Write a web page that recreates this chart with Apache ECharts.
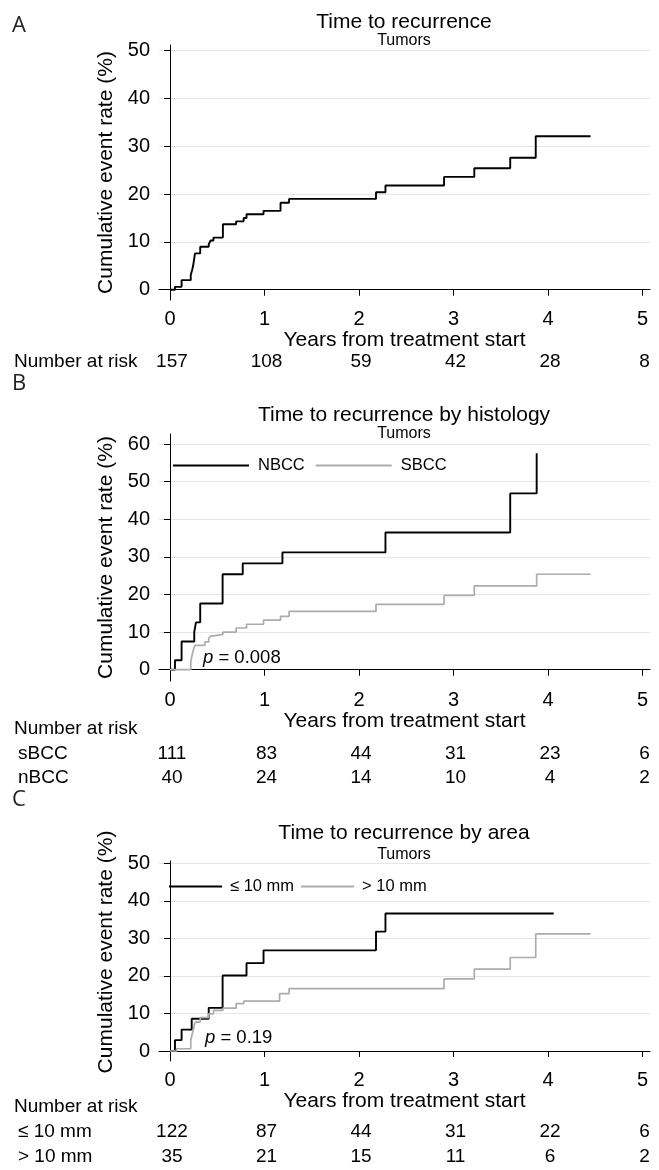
<!DOCTYPE html>
<html>
<head>
<meta charset="utf-8">
<script src="https://cdn.jsdelivr.net/npm/echarts@6.0.0/dist/echarts.min.js"></script>
<style>
  html, body { margin: 0; padding: 0; background: #fff; }
  #main { width: 659px; height: 1170px; }
</style>
</head>
<body>
<div id="main"></div>
<script>
// ---- data ----
var yearTicks = [0, 1, 2, 3, 4, 5];
var tickA = [0, 10, 20, 30, 40, 50];
var tickB = [0, 10, 20, 30, 40, 50, 60];

// panel A: all tumors
var timeAll = [0, 0.053, 0.123, 0.22, 0.235, 0.245, 0.255, 0.265, 0.32, 0.41, 0.43, 0.46, 0.56, 0.70, 0.78, 0.81, 0.99, 1.17, 1.26, 2.18, 2.28, 2.90, 3.22, 3.60, 3.87, 4.45];
var rateAll = [0, 0.6, 2.0, 3.1, 4.2, 5.0, 6.3, 7.6, 9.0, 9.5, 10.3, 10.9, 13.7, 14.3, 15.0, 15.8, 16.5, 18.2, 19.0, 20.4, 21.8, 23.6, 25.4, 27.6, 32.1, 32.1];

// panel B: histology
var timeNbcc = [0, 0.053, 0.123, 0.257, 0.275, 0.32, 0.557, 0.77, 1.19, 2.28, 3.60, 3.88];
var rateNbcc = [0, 2.5, 7.5, 10.0, 12.6, 17.6, 25.4, 28.3, 31.2, 36.5, 46.9, 57.6];
var timeSbcc = [0, 0.22, 0.235, 0.25, 0.265, 0.37, 0.41, 0.43, 0.46, 0.56, 0.70, 0.81, 0.99, 1.17, 1.26, 2.18, 2.90, 3.22, 3.88, 4.45];
var rateSbcc = [0, 2.1, 4.0, 5.5, 6.5, 7.4, 8.3, 9.0, 9.4, 10.0, 11.1, 12.1, 13.2, 14.2, 15.5, 17.4, 19.8, 22.3, 25.4, 25.4];

// panel C: area
var timeSmall = [0, 0.053, 0.123, 0.23, 0.41, 0.557, 0.81, 0.99, 2.18, 2.28, 4.06];
var rateSmall = [0, 2.9, 5.7, 8.6, 11.5, 20.1, 23.4, 26.8, 31.8, 36.6, 36.6];
var timeLarge = [0, 0.07, 0.22, 0.235, 0.25, 0.265, 0.32, 0.41, 0.46, 0.56, 0.70, 0.78, 1.16, 1.26, 2.90, 3.22, 3.60, 3.87, 4.45];
var rateLarge = [0, 0.6, 2.8, 4.5, 6.0, 7.7, 8.9, 9.9, 10.8, 11.4, 12.6, 13.3, 15.3, 16.6, 19.2, 21.8, 24.9, 31.2, 31.2];

// number at risk
var riskAll = [157, 108, 59, 42, 28, 8];
var riskSbcc = [111, 83, 44, 31, 23, 6];
var riskNbcc = [40, 24, 14, 10, 4, 2];
var riskSmall = [122, 87, 44, 31, 22, 6];
var riskLarge = [35, 21, 15, 11, 6, 2];

var FONT = '"Liberation Sans", Arial, sans-serif';

function pairs(t, v) {
  var out = [];
  for (var i = 0; i < t.length; i++) out.push([t[i], v[i]]);
  return out;
}

function makeX(idx) {
  return {
    type: 'value', gridIndex: idx, min: -0.116, max: 5.079,
    name: 'Years from treatment start', nameLocation: 'middle', nameGap: 27,
    nameTextStyle: { fontSize: 21, color: '#000', fontFamily: FONT },
    axisLine: { show: true, lineStyle: { color: '#000', width: 1 } },
    axisTick: { show: true, customValues: yearTicks, length: 6, lineStyle: { color: '#000' } },
    axisLabel: { customValues: yearTicks, fontSize: 20, color: '#000', fontFamily: FONT, margin: 9 },
    splitLine: { show: false }
  };
}

function makeY(idx, min, max, ticks, namePad) {
  return {
    type: 'value', gridIndex: idx, min: min, max: max,
    name: 'Cumulative event rate (%)', nameLocation: 'middle', nameGap: 38,
    nameTextStyle: { fontSize: 21, color: '#000', fontFamily: FONT, padding: namePad || 0 },
    axisLine: { show: true, lineStyle: { color: '#000', width: 1 } },
    axisTick: { show: true, customValues: ticks, length: 6, lineStyle: { color: '#000' } },
    axisLabel: { customValues: ticks, fontSize: 20, color: '#000', fontFamily: FONT, margin: 9 },
    splitLine: { show: true, lineStyle: { color: '#e6e6e6', width: 1 } }
  };
}

function km(name, idx, t, v, color, w) {
  return {
    name: name, type: 'line', step: 'end', xAxisIndex: idx, yAxisIndex: idx,
    showSymbol: false, symbol: 'none', animation: false,
    lineStyle: { color: color, width: w }, itemStyle: { color: color },
    data: pairs(t, v)
  };
}

var chart = echarts.init(document.getElementById('main'));

var option = {
  backgroundColor: '#fff',
  animation: false,
  grid: [
    { left: 159, top: 45, width: 491, height: 255 },
    { left: 159, top: 434, width: 491, height: 247 },
    { left: 159, top: 861, width: 491, height: 200 }
  ],
  xAxis: [makeX(0), makeX(1), makeX(2)],
  yAxis: [
    makeY(0, -2.15, 51.2, tickA),
    makeY(1, -3.0, 62.7, tickB),
    makeY(2, -2.66, 50.6, tickA, [0, 0, 0, 18])
  ],
  legend: [
    {
      data: ['NBCC', 'SBCC'], left: 168, top: 452, icon: 'rect',
      itemWidth: 76, itemHeight: 2, itemGap: 11,
      textStyle: { fontSize: 16.5, color: '#000', fontFamily: FONT, padding: [0, 0, 0, 4] }
    },
    {
      data: ['≤ 10 mm', '> 10 mm'], left: 164, top: 873, icon: 'rect',
      itemWidth: 53, itemHeight: 2, itemGap: 7,
      textStyle: { fontSize: 16.5, color: '#000', fontFamily: FONT, padding: [0, 0, 0, 3] }
    }
  ],
  series: [
    km('Tumors', 0, timeAll, rateAll, '#000', 1.9),
    km('NBCC', 1, timeNbcc, rateNbcc, '#000', 1.9),
    km('SBCC', 1, timeSbcc, rateSbcc, '#acacac', 1.7),
    km('≤ 10 mm', 2, timeSmall, rateSmall, '#000', 1.9),
    km('> 10 mm', 2, timeLarge, rateLarge, '#acacac', 1.7)
  ]
};
chart.setOption(option);

// texts: panel letters, titles, p values, risk tables
function txt(s, x, y, size, align, extra) {
  var st = { text: s, fontSize: size, fontFamily: FONT, fill: '#000', align: align || 'center', verticalAlign: 'middle' };
  if (extra) for (var k in extra) st[k] = extra[k];
  return { type: 'text', x: x, y: y, style: st, silent: true };
}

var g = [];
g.push(txt('A', 12, 26, 22, 'left', { fontFamily: '"Open Sans", sans-serif', fill: '#222' }));
g.push(txt('B', 12, 384, 22, 'left', { fontFamily: '"Open Sans", sans-serif', fill: '#222' }));
g.push(txt('C', 12, 800, 22, 'left', { fontFamily: '"Open Sans", sans-serif', fill: '#222' }));

g.push(txt('Time to recurrence', 404, 22, 21));
g.push(txt('Tumors', 404, 41, 16));
g.push(txt('Time to recurrence by histology', 404, 415, 21));
g.push(txt('Tumors', 404, 434, 16));
g.push(txt('Time to recurrence by area', 404, 833, 21));
g.push(txt('Tumors', 404, 855, 16));

var pRich = { i: { fontStyle: 'italic', fontSize: 18.5, fontFamily: FONT } };
g.push(txt('{i|p} = 0.008', 203, 658, 18.5, 'left', { rich: pRich }));
g.push(txt('{i|p} = 0.19', 205, 1038, 18.5, 'left', { rich: pRich }));

function riskRow(axisIdx, label, labelX, y, values) {
  if (label) g.push(txt(label, labelX, y, 19, 'left'));
  for (var i = 0; i < values.length; i++) {
    var px = chart.convertToPixel({ xAxisIndex: axisIdx }, yearTicks[i]);
    g.push(txt(String(values[i]), px + 2, y, 19));
  }
}
g.push(txt('Number at risk', 14, 362, 19, 'left'));
riskRow(0, null, 0, 362, riskAll);

g.push(txt('Number at risk', 14, 729, 19, 'left'));
riskRow(1, 'sBCC', 18, 754, riskSbcc);
riskRow(1, 'nBCC', 18, 778, riskNbcc);

g.push(txt('Number at risk', 14, 1107, 19, 'left'));
riskRow(2, '≤ 10 mm', 18, 1132, riskSmall);
riskRow(2, '> 10 mm', 18, 1157, riskLarge);

chart.setOption({ graphic: g });
</script>
</body>
</html>
